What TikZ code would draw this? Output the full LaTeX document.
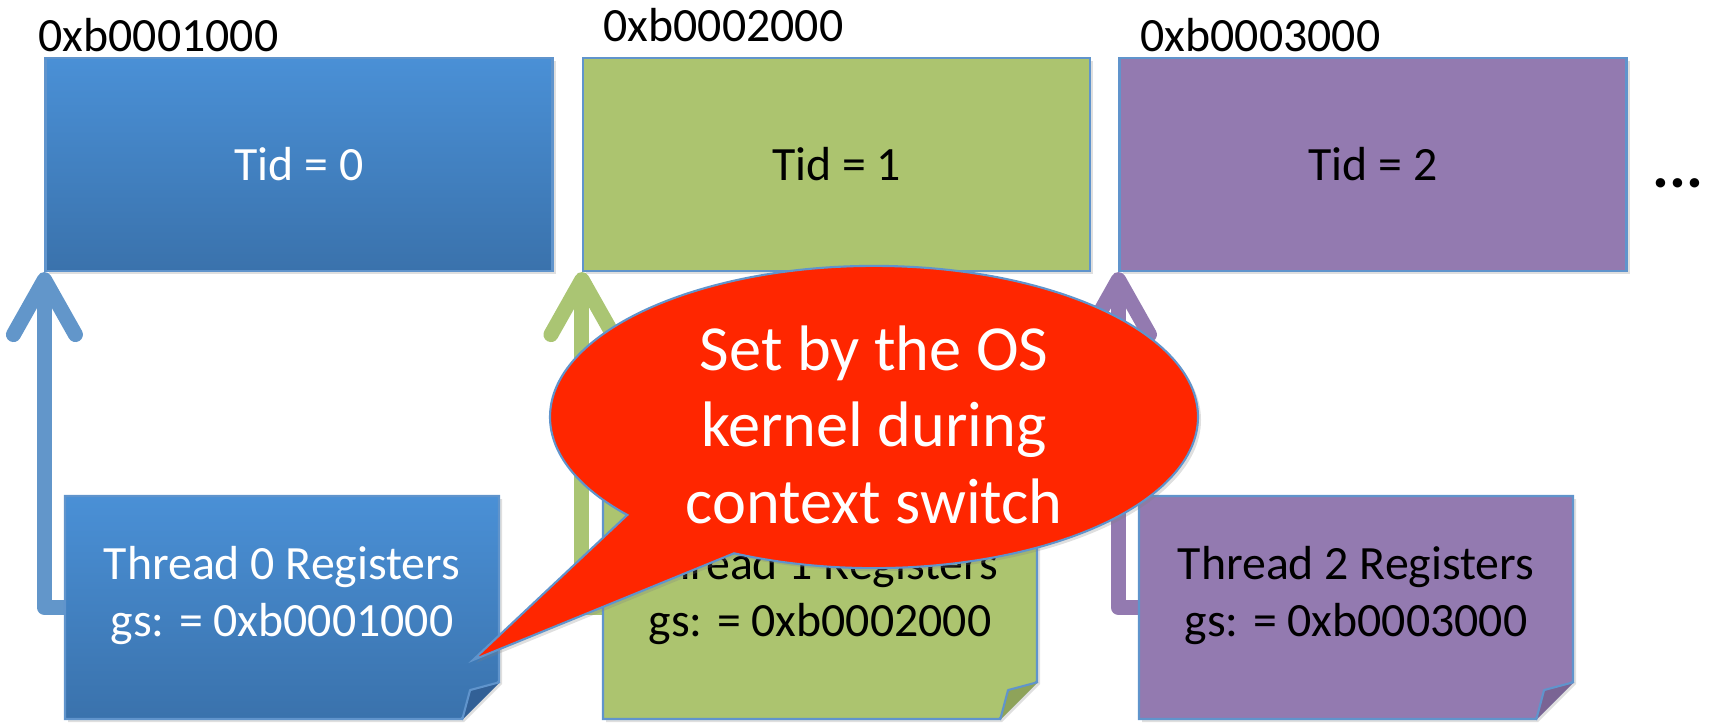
\documentclass[tikz,border=0pt]{standalone}
\usepackage{fontspec}
\setmainfont{Carlito}
\usetikzlibrary{calc, arrows.meta, shapes.misc, shapes.callouts, shadows, backgrounds}

\definecolor{tidblue}{RGB}{74,144,214}
\definecolor{tidbluedark}{RGB}{58,114,172}
\definecolor{tidgreen}{RGB}{172,196,111}
\definecolor{tidpurple}{RGB}{147,122,176}
\definecolor{arrblue}{RGB}{98,150,202}
\definecolor{arrgreen}{RGB}{170,197,115}
\definecolor{foldblue}{RGB}{50,96,150}
\definecolor{foldgreen}{RGB}{142,163,90}
\definecolor{foldpurple}{RGB}{122,100,148}
\definecolor{edgeblue}{RGB}{96,148,204}
\definecolor{calloutred}{RGB}{255,38,0}

\begin{document}
\begin{tikzpicture}[
  font=\fontsize{13.6}{16}\selectfont,
  softshadow/.style={drop shadow={shadow xshift=0.03cm, shadow yshift=-0.03cm, opacity=0.25}},
  membox/.style={draw=edgeblue, line width=0.6pt, minimum width=5.07cm, minimum height=2.13cm, inner sep=0pt, softshadow},
  regnote/.style={chamfered rectangle, chamfered rectangle corners=south east,
    chamfered rectangle xsep=0.19cm, chamfered rectangle ysep=0.19cm,
    draw=edgeblue, line width=0.6pt, minimum width=4.34cm, minimum height=2.23cm,
    inner sep=0pt, align=center, text depth=0.32cm, softshadow},
  addr/.style={anchor=west, inner sep=0pt},
  uparrow/.style={line width=0.15cm, line join=round,
    -{Straight Barb[length=0.55cm, width=0.62cm, round]}},
  fold/.style={draw=edgeblue, line width=0.6pt, line join=round}
]
\useasboundingbox (0,0) rectangle (17.09,-7.24);

\node[membox, top color=tidblue, bottom color=tidbluedark, text=white] (tid0) at (2.99,-1.645) {Tid = 0};
\node[membox, fill=tidgreen] (tid1) at (8.365,-1.645) {Tid = 1};
\node[membox, fill=tidpurple] (tid2) at (13.73,-1.645) {Tid = 2};

\node[addr] (addr0) at (0.38,-0.35) {0xb0001000};
\node[addr] (addr1) at (6.03,-0.25) {0xb0002000};
\node[addr] (addr2) at (11.40,-0.35) {0xb0003000};

\node (dots) at (16.78,-1.83) {\fontsize{18}{20}\selectfont\bfseries ...};

\node[regnote, top color=tidblue, bottom color=tidbluedark, text=white] (regs0) at (2.82,-6.075) {Thread 0 Registers\\gs: = 0xb0001000};
\node[regnote, fill=tidgreen] (regs1) at (8.20,-6.075) {Thread 1 Registers\\gs: = 0xb0002000};
\node[regnote, fill=tidpurple] (regs2) at (13.56,-6.075) {Thread 2 Registers\\gs: = 0xb0003000};

\begin{scope}[on background layer]
\draw[uparrow, arrblue] (regs0.west) -| (tid0.south west);
\draw[uparrow, arrgreen] (regs1.west) -| (tid1.south west);
\draw[uparrow, tidpurple] (regs2.west) -| (tid2.south west);
\end{scope}

\coordinate (corner0) at (regs0.east |- regs0.south);
\coordinate (corner1) at (regs1.east |- regs1.south);
\coordinate (corner2) at (regs2.east |- regs2.south);
\filldraw[fold, fill=foldblue] ($(corner0)+(0,0.38)$) -- ($(corner0)+(-0.30,0.30)$) -- ($(corner0)+(-0.38,0)$);
\filldraw[fold, fill=foldgreen] ($(corner1)+(0,0.38)$) -- ($(corner1)+(-0.30,0.30)$) -- ($(corner1)+(-0.38,0)$);
\filldraw[fold, fill=foldpurple] ($(corner2)+(0,0.38)$) -- ($(corner2)+(-0.30,0.30)$) -- ($(corner2)+(-0.38,0)$);

\coordinate (tip) at (4.73,-6.60);
\node[ellipse callout, callout absolute pointer=(tip), callout pointer arc=24,
  fill=calloutred, draw=edgeblue, line width=0.6pt, text=white, softshadow,
  minimum width=6.48cm, minimum height=2.92cm, inner sep=0pt, align=center,
  font=\fontsize{18.3}{21.8}\selectfont] (osnote) at (8.74,-4.17)
  {\rule{0pt}{0.6cm}Set by the OS\\kernel during\\context switch};
\end{tikzpicture}
\end{document}
